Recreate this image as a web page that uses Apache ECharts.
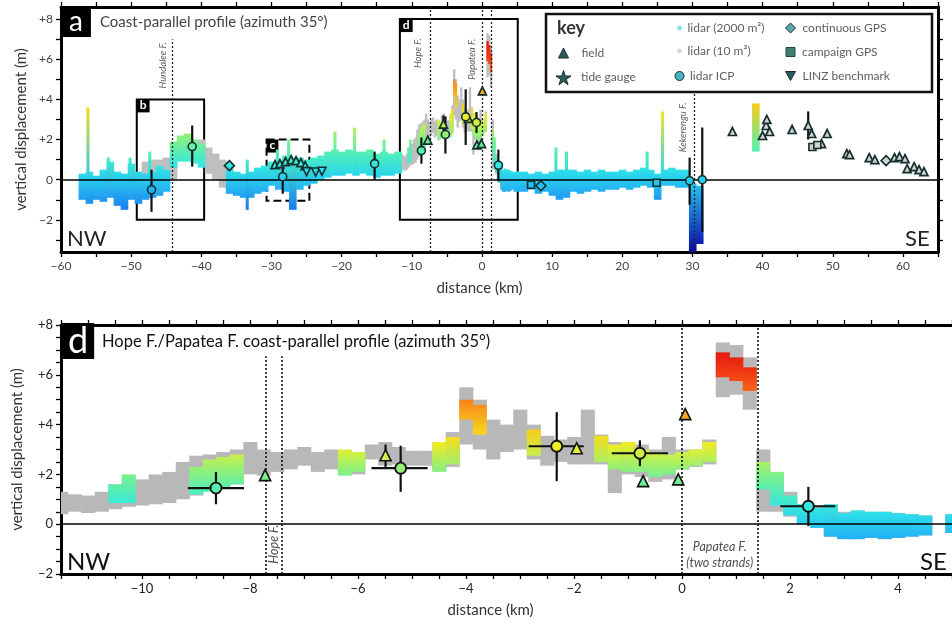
<!DOCTYPE html>
<html><head><meta charset="utf-8">
<script src="https://cdn.jsdelivr.net/npm/echarts@6/dist/echarts.min.js"></script>
<style>html,body{margin:0;padding:0;background:#fff}#c{width:952px;height:625px}</style>
</head><body><div id="c"></div>
<script>
// ================= DATA =================
// Regional lidar (2000 m²) profile, panel a: 1-km bins (centre km), upper / lower displacement (m)
const regX  = [-57,-56,-55,-54,-53,-52,-51,-50,-49,-48,-47,-46,-45,-44,-43,-42,-41,-40,-39,-38,-37,-36,-35,-34,-33,-32,-31,-30,-29,-28,-27,-26,-25,-24,-23,-22,-21,-20,-19,-18,-17,-16,-15,-14,-13,-12,
               5,6,7,8,9,10,11,12,13,14,15,16,17,18,19,20,21,22,23,24,25,26,27,28,29,30,31,39];
const regHi = [0.3,0.4,0.2,0.5,0.9,0.4,0.3,0.8,0.4,0.3,0.4,0.7,0.5,1.9,2.2,2.3,2.0,1.8,null,null,null,0.5,0.4,0.3,0.4,0.6,0.7,0.9,1.0,1.2,1.1,1.1,1.0,1.1,1.2,1.4,1.5,1.4,1.5,1.4,1.4,1.5,1.3,1.4,1.3,1.4,
               0.4,0.4,0.3,0.4,0.3,0.4,0.5,0.5,0.5,0.4,0.5,0.4,0.5,0.4,0.4,0.5,0.4,0.5,0.6,0.5,0.3,0.5,0.6,0.5,0.5,-0.2,-0.3,3.8];
const regLo = [-1.0,-1.2,-1.0,-1.1,-0.9,-1.3,-1.5,-1.0,-1.2,-1.0,-0.9,-0.8,-0.6,0.6,0.9,0.9,0.8,0.6,null,null,null,-0.7,-0.8,-0.9,-0.9,-0.7,-0.6,-0.3,-0.5,-0.6,-1.5,-0.5,-0.3,-0.2,0.0,0.1,0.2,0.2,0.3,0.2,0.3,0.2,0.1,0.2,0.2,0.3,
               -0.6,-0.6,-0.5,-0.7,-0.6,-0.8,-1.0,-0.9,-0.6,-0.7,-0.6,-0.5,-0.6,-0.5,-0.5,-0.4,-0.5,-0.4,-0.3,-0.4,-1.0,-0.3,-0.3,-0.4,-0.4,-3.6,-3.2,1.4];
// Narrow spikes in the regional profile
const spikeX  = [-56.2,-53.3,-50.2,-47.4,-33.5,-29.2,-27.6,-21.0,-18.2,-14.0,10.5,12.0,23.5,25.7];
const spikeHi = [3.6,1.1,1.1,1.4,1.0,1.5,2.0,2.4,2.6,2.0,1.6,1.4,1.4,3.4];
const spikeLo = [0.0,-0.5,-0.3,0.3,-1.5,0.5,0.5,1.0,1.0,1.0,0.3,0.3,0.3,0.3];
// Regional lidar (10 m²) where it shows in panel a
const grayRegX  = [-48,-47,-46,-45,-44,-40,-39,-38,-37,-36];
const grayRegHi = [0.9,1.0,1.0,1.1,1.3,2.0,1.6,1.3,1.0,0.6];
const grayRegLo = [-0.6,-0.4,-0.3,-0.2,0.0,0.8,0.3,0.0,-0.4,-0.7];

// Detailed profile (panel d), 0.25-km bins
const detX = [-11.5,-11.25,-11,-10.75,-10.5,-10.25,-10,-9.75,-9.5,-9.25,-9,-8.75,-8.5,-8.25,-8,-7.75,-7.5,-7.25,-7,-6.75,-6.5,-6.25,-6,-5.75,-5.5,-5.25,-5,-4.75,-4.5,-4.25,-4,-3.75,-3.5,-3.25,-3,-2.75,-2.5,-2.25,-2,-1.75,-1.5,-1.25,-1,-0.75,-0.5,-0.25,0,0.25,0.5,0.75,1,1.25,1.5,1.75,2,2.25,2.5,2.75,3,3.25,3.5,3.75,4,4.25,4.5,4.75,5];
// lidar (10 m²) envelope
const det10Hi = [1.3,1.2,1.15,1.3,1.6,1.8,1.8,2.0,2.1,2.5,2.75,2.8,2.9,3.0,3.3,3.0,2.9,3.0,3.1,2.9,3.0,2.95,2.9,3.2,3.3,3.1,2.95,2.95,3.2,3.7,5.5,5.0,4.2,4.0,4.6,4.0,3.55,3.4,3.5,4.6,3.6,3.3,3.3,3.2,3.0,3.5,3.0,3.0,3.4,7.3,7.2,6.7,3.0,2.1,1.3,0.8,0.7,0.8,0.5,0.55,0.5,0.5,0.45,0.4,0.35,null,0.4];
const det10Lo = [0.4,0.5,0.45,0.5,0.6,0.7,0.75,0.8,0.85,1.0,1.15,1.4,1.5,1.6,2.0,1.95,2.1,2.2,2.35,2.1,2.2,2.1,2.0,2.6,2.35,2.4,2.35,2.35,2.2,2.3,3.2,3.0,2.6,2.9,3.0,2.6,2.35,2.5,2.4,2.4,2.4,1.25,2.0,1.9,1.7,1.8,2.2,2.3,2.4,5.1,5.2,4.6,0.5,0.5,0.3,0.0,-0.15,-0.5,-0.6,-0.6,-0.55,-0.6,-0.55,-0.5,-0.45,null,-0.35];
// lidar (2000 m²) envelope
const det2kHi = [null,null,null,null,1.6,2.0,null,null,null,null,2.3,2.6,2.7,2.8,null,null,null,null,null,null,null,3.0,2.9,null,null,null,null,null,3.3,3.5,5.0,4.8,null,null,null,3.8,null,null,null,null,3.55,3.2,3.3,3.0,2.9,2.8,2.9,3.0,3.3,6.9,6.7,6.3,2.5,2.1,1.15,0.8,0.65,0.8,0.45,0.55,0.5,0.5,0.45,0.4,0.35,null,0.4];
const det2kLo = [null,null,null,null,0.85,0.85,null,null,null,null,1.2,1.3,1.5,1.6,null,null,null,null,null,null,null,1.95,2.1,null,null,null,null,null,2.1,2.4,4.2,3.6,null,null,null,2.75,null,null,null,null,2.5,2.2,2.1,2.1,1.9,2.0,2.2,2.35,2.5,5.9,5.75,5.35,1.4,0.75,0.35,0.0,-0.15,-0.5,-0.6,-0.6,-0.55,-0.6,-0.55,-0.5,-0.45,null,-0.35];

// lidar ICP points: distance, displacement, x-error range, y-error range
const icpX   = [-47.1,-41.3,-28.4,-15.3,-8.63,-5.21,-2.32,-0.78,2.34,29.6,31.4];
const icpY   = [-0.5,1.65,0.15,0.8,1.45,2.25,3.13,2.85,0.72,-0.05,0.0];
const icpXLo = [null,null,null,null,-9.15,-5.75,-2.84,-1.3,1.82,null,null];
const icpXHi = [null,null,null,null,-8.11,-4.71,-1.82,-0.26,2.84,null,null];
const icpYLo = [-1.6,0.65,-0.7,0.0,0.8,1.3,1.73,2.33,-0.08,-1.25,-2.6];
const icpYHi = [0.5,2.7,0.9,1.4,2.1,3.15,4.5,3.37,1.5,1.1,2.6];
// field measurements
const fieldX = [-29.5,-28.8,-28.0,-27.2,-26.5,-25.8,-25.2,-7.72,-5.49,-1.95,-0.72,-0.07,0.06,35.7,40.0,40.5,40.6,41.0,44.2,46.5,47.0,48.4,49.2,52.0,52.4,55.2,56.0,58.8,59.5,60.3,60.6,61.6,62.3,63.0];
const fieldY = [0.75,0.8,0.9,1.0,0.95,0.85,0.7,1.97,2.77,3.05,1.73,1.8,4.42,2.4,2.2,2.7,3.0,2.4,2.5,2.7,2.3,1.8,2.3,1.3,1.25,1.1,1.0,1.1,1.15,1.05,0.55,0.65,0.5,0.4];
const fieldYLo = [null,null,null,null,null,null,null,null,2.3,null,null,null,null,null,null,null,null,null,null,2.0,null,null,null,null,null,null,null,null,null,null,null,null,null,null];
const fieldYHi = [null,null,null,null,null,null,null,null,3.2,null,null,null,null,null,null,null,null,null,null,3.4,null,null,null,null,null,null,null,null,null,null,null,null,null,null];
// GPS and benchmarks
const cgpsX = [-36.0,8.4,57.6];  const cgpsY = [0.7,-0.3,0.95];
const campX = [7.0,24.9,47.1,47.8]; const campY = [-0.25,-0.15,1.63,1.73];
const linzX = [-25.0,-23.7,-22.8]; const linzY = [0.4,0.38,0.42];
const tideX = []; const tideY = [];

// Faults
const faultTopX = [-44.2,-7.4,0,1.3,30.3];
const faultTopUp = [7.0,8.6,8.6,8.6,4.3];
const faultTopNames = ['Hundalee F.','Hope F.','Papatea F.','Kekerengu F.'];
const faultTopLabelPos = [[-45.4,5.7],[-9.1,6.3],[-1.4,6.0],[28.7,2.6]];
const faultBotX = [-7.7,-7.42,0,1.41];
const faultBotUp = [6.75,6.75,8,8];
// inset boxes in panel a: [x0, y0(top), x1, y1(bottom)]
const insetNames = ['b','c','d'];
const insetBoxes = [[-49.2,4.0,-39.6,-2.0],[-30.7,2.0,-24.6,-1.05],[-11.7,8.0,5.1,-2.0]];

// tick labels
const topXLabels = [-60,-50,-40,-30,-20,-10,0,10,20,30,40,50,60];
const topYLabels = [-2,0,2,4,6,8];
const botXLabels = [-10,-8,-6,-4,-2,0,2,4];
const botYLabels = [-2,0,2,4,6,8];

// ================= HELPERS =================
function seq(a,b,s){const r=[];for(let v=a;v<=b+1e-9;v+=s)r.push(Math.round(v*1000)/1000);return r;}
const stops=[[-3.6,'#0a0aa0'],[-2.5,'#1238d4'],[-1.5,'#1a7cf0'],[-0.8,'#22a4f4'],[0,'#26cdf2'],[0.6,'#30e6e6'],[1.3,'#4cf0ba'],[2.0,'#7cf08a'],[2.6,'#b6f05a'],[3.2,'#f2f020'],[3.8,'#f8cc18'],[4.6,'#f8a020'],[5.4,'#f86018'],[6.2,'#f03010'],[7.2,'#e01010']];
function hex(c){return [parseInt(c.substr(1,2),16),parseInt(c.substr(3,2),16),parseInt(c.substr(5,2),16)];}
function cmap(v){
  if(v<=stops[0][0]) return stops[0][1];
  for(let i=1;i<stops.length;i++){ if(v<=stops[i][0]){ const t=(v-stops[i-1][0])/(stops[i][0]-stops[i-1][0]); const a=hex(stops[i-1][1]), b=hex(stops[i][1]); return 'rgb('+a.map((q,k)=>Math.round(q+(b[k]-q)*t)).join(',')+')'; } }
  return stops[stops.length-1][1];
}
const fmtSigned=v=>v>0?'+'+v:(v<0?'\u2212'+Math.abs(v):'0');
const fmtMinus=v=>v<0?'\u2212'+Math.abs(v):String(v);
function zip3(xs,los,his){const d=[];xs.forEach((x,i)=>{if(his[i]!=null&&los[i]!=null)d.push([x,los[i],his[i]]);});return d;}

function bandSeries(name,xi,yi,data,binW,gray,z){
  return {type:'custom',name,xAxisIndex:xi,yAxisIndex:yi,z,silent:true,
    encode:{x:0,y:[1,2]},data,
    renderItem:(params,api)=>{
      const x=api.value(0),lo=api.value(1),hi=api.value(2);
      const p0=api.coord([x-binW/2,hi]),p1=api.coord([x+binW/2,lo]);
      const r=echarts.graphic.clipRectByRect({x:p0[0],y:p0[1],width:p1[0]-p0[0]+0.6,height:Math.max(p1[1]-p0[1],1)},params.coordSys);
      if(!r) return null;
      const fill=gray?gray:new echarts.graphic.LinearGradient(0,0,0,1,[{offset:0,color:cmap(hi)},{offset:1,color:cmap(lo)}]);
      return {type:'rect',shape:r,style:{fill}};
    }};
}
function errSeries(xi,yi,data,w,z){
  return {type:'custom',name:'err',xAxisIndex:xi,yAxisIndex:yi,z,silent:true,encode:{x:0,y:1},data,
    renderItem:(params,api)=>{
      const x=api.value(0),y=api.value(1),xlo=api.value(2),xhi=api.value(3),ylo=api.value(4),yhi=api.value(5);
      const ch=[];
      if(isFinite(ylo)&&isFinite(yhi)){const a=api.coord([x,ylo]),b=api.coord([x,yhi]);ch.push({type:'line',shape:{x1:a[0],y1:a[1],x2:b[0],y2:b[1]},style:{stroke:'#111',lineWidth:w}});}
      if(isFinite(xlo)&&isFinite(xhi)){const a=api.coord([xlo,y]),b=api.coord([xhi,y]);ch.push({type:'line',shape:{x1:a[0],y1:a[1],x2:b[0],y2:b[1]},style:{stroke:'#111',lineWidth:w}});}
      return {type:'group',children:ch};
    }};
}
const inBot=x=>x>=-11.5&&x<=5;
const markerFill=p=>p.value[0]>33?'#cfd2d2':cmap(p.value[1]);
function scat(name,xi,yi,xs,ys,symbol,size,bw,bc,z,filter,rot){
  const data=[];xs.forEach((x,i)=>{if(!filter||filter(x))data.push([x,ys[i]]);});
  return {type:'scatter',name,xAxisIndex:xi,yAxisIndex:yi,data,symbol,symbolSize:size,symbolRotate:rot||0,z,silent:true,
    itemStyle:{color:markerFill,borderColor:bc,borderWidth:bw,opacity:1}};
}
function errData(xs,ys,xlo,xhi,ylo,yhi,filter){
  const d=[];xs.forEach((x,i)=>{if((ylo[i]!=null||xlo[i]!=null)&&(!filter||filter(x)))d.push([x,ys[i],xlo[i],xhi[i],ylo[i],yhi[i]]);});return d;
}

// ================= OPTION =================
const font='Lato, "Open Sans", sans-serif';
const axLine={show:true,onZero:false,lineStyle:{color:'#000',width:3}};
function xAx(grid,pos,min,max,ticks,labels,name,lblColor,lblSize,namePad){
  return {type:'value',gridIndex:grid,position:pos,min,max,axisLine:axLine,splitLine:{show:false},
    axisTick:{show:true,inside:false,length:5,lineStyle:{color:'#000',width:1.3},customValues:ticks},
    axisLabel:{show:!!labels,customValues:labels||[],formatter:fmtMinus,color:lblColor,fontSize:lblSize,margin:8,fontFamily:font},
    name:name||'',nameLocation:'middle',nameGap:29,nameTextStyle:{fontSize:15,color:'#333',fontFamily:font,padding:namePad||0}};
}
function yAx(grid,pos,min,max,ticks,labels,name,lblColor,lblSize,gap){
  return {type:'value',gridIndex:grid,position:pos,min,max,axisLine:axLine,splitLine:{show:false},
    axisTick:{show:true,inside:false,length:5,lineStyle:{color:'#000',width:1.3},customValues:ticks},
    axisLabel:{show:!!labels,customValues:labels||[],formatter:fmtSigned,color:lblColor,fontSize:lblSize,margin:8,fontFamily:font},
    name:name||'',nameLocation:'middle',nameGap:gap||30,nameTextStyle:{fontSize:15,color:'#333',fontFamily:font}};
}

const series=[];
// zero lines + fault lines (under the bands)
series.push({type:'line',name:'ref0',xAxisIndex:0,yAxisIndex:0,data:[],z:1,silent:true,
  markLine:{silent:true,symbol:'none',animation:false,label:{show:false},
    data:[[{coord:[-60,0],lineStyle:{type:'solid',width:1.6,color:'#000'}},{coord:[65,0]}]].concat(
      faultTopX.map((x,i)=>[{coord:[x,-3.6],lineStyle:{type:[2,2],width:1.3,color:'#222'}},{coord:[x,faultTopUp[i]]}]))}});
series.push({type:'line',name:'ref1',xAxisIndex:2,yAxisIndex:2,data:[],z:1,silent:true,
  markLine:{silent:true,symbol:'none',animation:false,label:{show:false},
    data:[[{coord:[-11.5,0],lineStyle:{type:'solid',width:1.6,color:'#000'}},{coord:[5,0]}]].concat(
      faultBotX.map((x,i)=>[{coord:[x,-2],lineStyle:{type:[2,2],width:1.6,color:'#111'}},{coord:[x,faultBotUp[i]]}]))}});

// bands panel a
series.push(bandSeries('lidar (10 m²)',0,0,zip3(grayRegX,grayRegLo,grayRegHi),1,'#bfbfbf',2));
series.push(bandSeries('lidar (10 m²)',0,0,zip3(detX,det10Lo,det10Hi),0.25,'#bfbfbf',2));
series.push(bandSeries('lidar (2000 m²)',0,0,zip3(regX,regLo,regHi),1,null,3));
series.push(bandSeries('lidar (2000 m²)',0,0,zip3(spikeX,spikeLo,spikeHi),0.35,null,3));
series.push(bandSeries('lidar (2000 m²)',0,0,zip3(detX,det2kLo,det2kHi),0.25,null,3));
// bands panel d
series.push(bandSeries('lidar (10 m²)',2,2,zip3(detX,det10Lo,det10Hi),0.25,'#b8b8b8',2));
series.push(bandSeries('lidar (2000 m²)',2,2,zip3(detX,det2kLo,det2kHi),0.25,null,3));

// error bars
series.push(errSeries(0,0,errData(icpX,icpY,icpXLo,icpXHi,icpYLo,icpYHi).concat(errData(fieldX,fieldY,fieldX.map(()=>null),fieldX.map(()=>null),fieldYLo,fieldYHi)),2.2,5));
series.push(errSeries(2,2,errData(icpX,icpY,icpXLo,icpXHi,icpYLo,icpYHi,inBot).concat(errData(fieldX,fieldY,fieldX.map(()=>null),fieldX.map(()=>null),fieldYLo,fieldYHi,inBot)),2.2,5));

// markers panel a
const dk='#142e2e';
series.push(scat('field',0,0,fieldX,fieldY,'triangle',8,1.7,dk,6));
series.push(scat('lidar ICP',0,0,icpX,icpY,'circle',8,1.6,dk,7));
series.push(scat('continuous GPS',0,0,cgpsX,cgpsY,'diamond',10,1.6,dk,6));
series.push(scat('campaign GPS',0,0,campX,campY,'rect',7,1.6,dk,6));
series.push(scat('LINZ benchmark',0,0,linzX,linzY,'triangle',8,1.6,dk,6,null,180));
series.push(scat('tide gauge',0,0,tideX,tideY,'path://M50,0 L61,35 L98,35 L68,57 L79,91 L50,70 L21,91 L32,57 L2,35 L39,35 Z',12,1.3,dk,6));
// markers panel d
series.push(scat('field',2,2,fieldX,fieldY,'triangle',11,1.6,'#111',6,inBot));
series.push(scat('lidar ICP',2,2,icpX,icpY,'circle',11,1.8,'#111',7,inBot));

// inset boxes
series.push({type:'line',name:'boxes',xAxisIndex:0,yAxisIndex:0,data:[],z:8,silent:true,
  markArea:{silent:true,animation:false,
    data:insetBoxes.map((b,i)=>[{name:insetNames[i],coord:[b[0],b[1]],itemStyle:{color:'rgba(0,0,0,0)',borderColor:'#000',borderWidth:2,borderType:insetNames[i]==='c'?'dashed':'solid'}},{coord:[b[2],b[3]]}]),
    label:{show:true,position:'insideTopLeft',distance:1,color:'#fff',backgroundColor:'#000',padding:[0,3,1,3],fontSize:12,fontWeight:'bold',fontFamily:font}}});

// fault labels
series.push({type:'scatter',name:'faultlabels',xAxisIndex:0,yAxisIndex:0,z:9,silent:true,symbolSize:0,
  data:faultTopNames.map((n,i)=>({name:n,value:faultTopLabelPos[i]})),
  label:{show:true,position:'inside',rotate:90,formatter:'{b}',fontSize:9.5,fontStyle:'italic',color:'#333',fontFamily:font}});
series.push({type:'scatter',name:'faultlabelsd',xAxisIndex:2,yAxisIndex:2,z:9,silent:true,symbolSize:0,
  data:[{name:'Hope F.',value:[-7.56,-0.8],label:{rotate:90}},{name:'Papatea F.',value:[0.7,-0.92]},{name:'(two strands)',value:[0.7,-1.57]}],
  label:{show:true,position:'inside',formatter:'{b}',fontSize:12.5,fontStyle:'italic',color:'#222',fontFamily:font}});

// legend (one component per key entry)
const keyItems=[
  {name:'field',icon:'triangle',cx:563,cy:55,size:10,color:'#2b5c5c',bc:dk,pad:8},
  {name:'tide gauge',icon:'path://M50,0 L61,35 L98,35 L68,57 L79,91 L50,70 L21,91 L32,57 L2,35 L39,35 Z',cx:563,cy:78,size:15,color:'#2b5c5c',bc:dk,pad:5},
  {name:'lidar (2000 m²)',icon:'circle',cx:679,cy:30,size:4,color:'#86e2d8',bc:'#86e2d8',pad:1},
  {name:'lidar (10 m²)',icon:'circle',cx:679,cy:53,size:4,color:'#d6d6d6',bc:'#d6d6d6',pad:1},
  {name:'lidar ICP',icon:'circle',cx:679,cy:78,size:9,color:'#46b4c4',bc:dk,pad:1},
  {name:'continuous GPS',icon:'diamond',cx:790,cy:30,size:10,color:'#5aa8b0',bc:dk,pad:2},
  {name:'campaign GPS',icon:'rect',cx:790,cy:54,size:9,color:'#3d8070',bc:'#1d4a44',pad:2},
  {name:'LINZ benchmark',icon:'path://M0,0 L10,0 L5,9 Z',cx:790,cy:78,size:10,color:'#2b5c5c',bc:dk,pad:2}
];
const legends=keyItems.map(k=>({show:true,left:k.cx-k.size/2,top:k.cy-8,padding:0,itemWidth:k.size,itemHeight:k.size,selectedMode:false,
  data:[{name:k.name,icon:k.icon,itemStyle:{color:k.color,borderColor:k.bc,borderWidth:1}}],
  textStyle:{color:'#606060',fontSize:12,fontFamily:font,padding:[0,0,0,k.pad]}}));

const option={
  animation:false,
  textStyle:{fontFamily:font},
  grid:[{left:61,top:7,width:877,height:245},{left:61,top:325,width:891,height:249}],
  xAxis:[
    xAx(0,'bottom',-60,65,seq(-60,65,5),topXLabels,'distance (km)','#444',12,[0,40,0,0]),
    xAx(0,'top',-60,65,seq(-60,65,5),null),
    xAx(1,'bottom',-11.5,5,seq(-11.5,5,0.5),botXLabels,'distance (km)','#222',13,[0,32,0,0]),
    xAx(1,'top',-11.5,5,seq(-11.5,5,0.5),null)
  ],
  yAxis:[
    yAx(0,'left',-3.6,8.6,seq(-3,8,1),topYLabels,'vertical displacement (m)','#444',12,32),
    yAx(0,'right',-3.6,8.6,seq(-3,8,1),null),
    yAx(1,'left',-2,8,seq(-2,8,0.5),botYLabels,'vertical displacement (m)','#222',13,36)
  ],
  title:[
    {text:'a',left:61,top:7,backgroundColor:'#000',padding:[0,8,0,8],textStyle:{color:'#fff',fontSize:28,fontWeight:'normal',lineHeight:30,fontFamily:font}},
    {text:'Coast-parallel profile (azimuth 35°)',left:100,top:15,padding:0,textStyle:{color:'#444',fontSize:15,fontWeight:'normal',fontFamily:font}},
    {text:'d',left:62,top:325,backgroundColor:'#000',padding:[0,6,0,6],textStyle:{color:'#fff',fontSize:36,fontWeight:'normal',lineHeight:32,fontFamily:font}},
    {text:'Hope F./Papatea F. coast-parallel profile (azimuth 35°)',left:102,top:333,padding:0,textStyle:{color:'#111',fontSize:16.5,fontWeight:'normal',fontFamily:font}}
  ],
  legend:legends,
  graphic:[
    {type:'rect',z:1,shape:{x:546,y:14,width:386,height:78},style:{fill:'#fff',stroke:'#111',lineWidth:2.5}},
    {type:'text',z:5,left:557,top:19,style:{text:'key',font:'bold 18px '+font,fill:'#333'}},
    {type:'text',z:5,left:67,top:228,style:{text:'NW',font:'22px '+font,fill:'#222'}},
    {type:'text',z:5,left:905,top:228,style:{text:'SE',font:'22px '+font,fill:'#222'}},
    {type:'text',z:5,left:67,top:550,style:{text:'NW',font:'24px '+font,fill:'#111'}},
    {type:'text',z:5,left:920,top:550,style:{text:'SE',font:'24px '+font,fill:'#111'}}
  ],
  series
};
const chart=echarts.init(document.getElementById('c'),null,{renderer:'canvas'});
chart.setOption(option);
</script></body></html>
